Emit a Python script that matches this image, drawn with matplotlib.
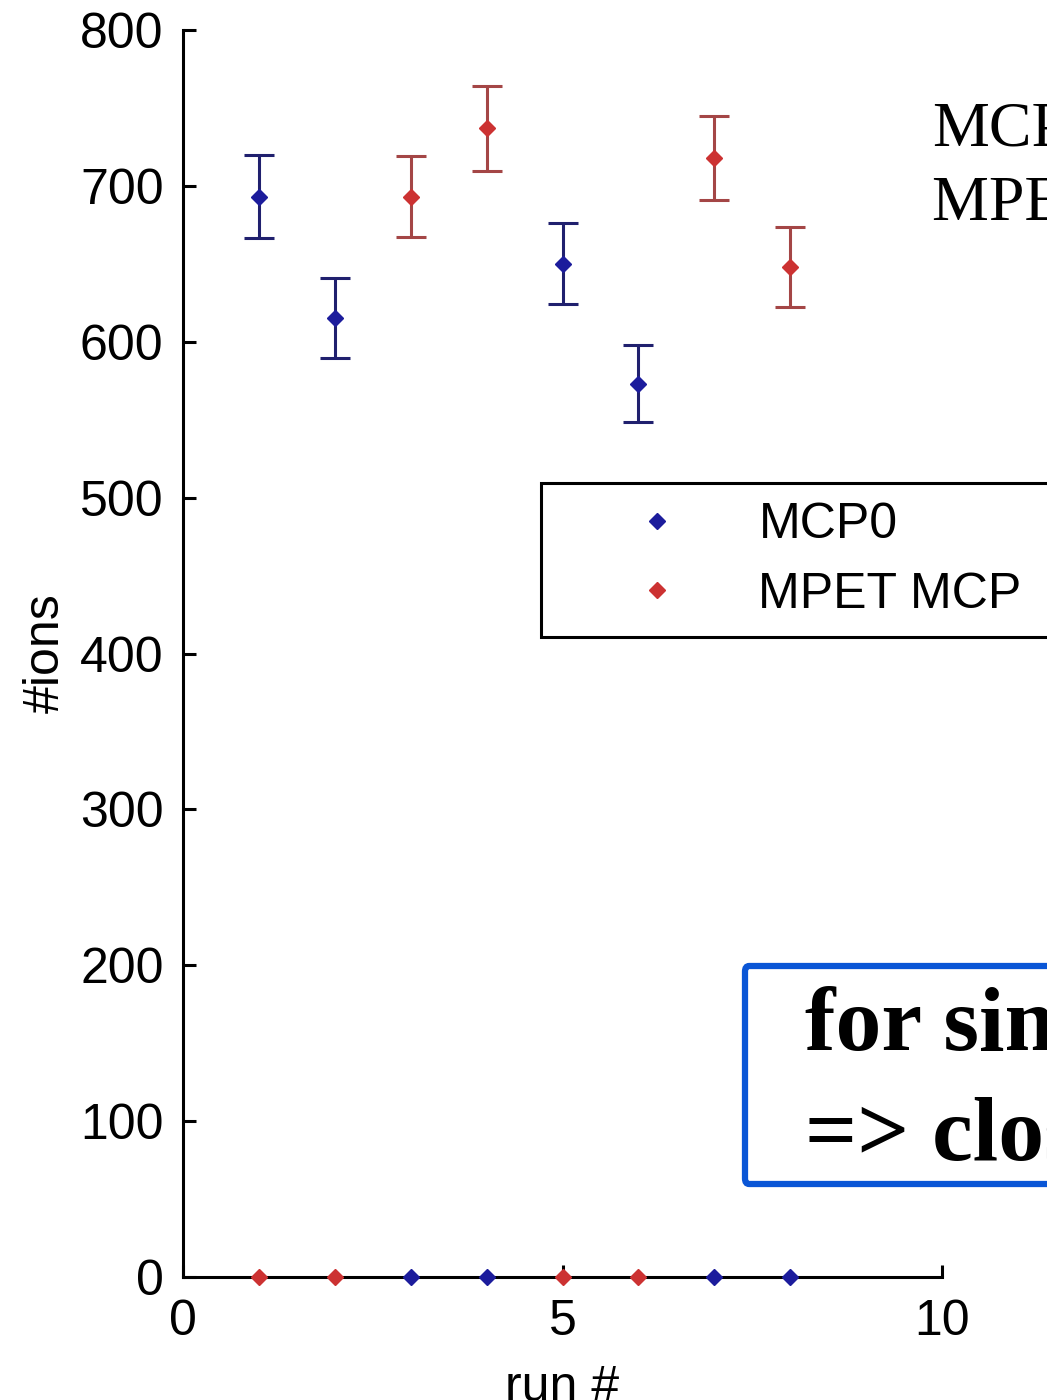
import numpy as np
import matplotlib.pyplot as plt
from matplotlib.patches import FancyBboxPatch

# run numbers and ion counts for the two detectors
runs = np.array([1, 2, 3, 4, 5, 6, 7, 8])
mcp0_ions = np.array([693, 615, 0, 0, 650, 573, 0, 0])
mcp0_err = np.array([26.5, 25.7, 0, 0, 26.0, 24.7, 0, 0])
mpet_ions = np.array([0, 0, 693, 737, 0, 0, 718, 648])
mpet_err = np.array([0, 0, 26.0, 27.3, 0, 0, 27.0, 25.7])

xticks = [0, 5, 10]
yticks = [0, 100, 200, 300, 400, 500, 600, 700, 800]

sans = ['Liberation Sans', 'DejaVu Sans']
serif = ['Liberation Serif', 'DejaVu Serif']

fig = plt.figure(figsize=(10.47, 14), dpi=100)
ax = fig.add_axes([183 / 1047, 1 - 1277 / 1400, (942 - 183) / 1047, (1277 - 30) / 1400])

blue = '#1c1c9c'
blue_err = '#20206e'
red = '#cc3232'
red_err = '#a44646'

# only runs with counts get error bars
m0 = mcp0_ions > 0
m1 = mpet_ions > 0
ax.errorbar(runs[m0], mcp0_ions[m0], yerr=mcp0_err[m0], fmt='none',
            ecolor=blue_err, elinewidth=2.2, capsize=11, capthick=2.2, zorder=2)
ax.errorbar(runs[m1], mpet_ions[m1], yerr=mpet_err[m1], fmt='none',
            ecolor=red_err, elinewidth=2.2, capsize=11, capthick=2.2, zorder=2)
ax.plot(runs, mcp0_ions, 'D', color=blue, ms=8, ls='none', label='MCP0',
        zorder=4, clip_on=False)
ax.plot(runs, mpet_ions, 'D', color=red, ms=8, ls='none', label='MPET MCP',
        zorder=4, clip_on=False)

ax.set_xlim(0, 10)
ax.set_ylim(0, 800)
ax.set_xticks(xticks)
ax.set_yticks(yticks)
ax.spines['top'].set_visible(False)
ax.spines['right'].set_visible(False)
for s in ('left', 'bottom'):
    ax.spines[s].set_linewidth(2.2)
    ax.spines[s].set_zorder(3)
ax.tick_params(direction='in', length=9, width=2.2, labelsize=36)
ax.tick_params(axis='y', pad=14)
ax.tick_params(axis='x', pad=16)
for lab in ax.get_xticklabels() + ax.get_yticklabels():
    lab.set_family(sans)

ax.set_xlabel('run #', family=sans, fontsize=36, labelpad=14)
ax.set_ylabel('#ions', family=sans, fontsize=36, labelpad=8)

leg = ax.legend(loc='upper left', bbox_to_anchor=(541 / 1047, 1 - 483 / 1400, 0.6, 0),
                bbox_transform=fig.transFigure, mode='expand', prop={'family': sans, 'size': 36},
                fancybox=False, edgecolor='black', framealpha=1, borderpad=0.38,
                labelspacing=0.47, handlelength=3.86, handletextpad=0.11,
                borderaxespad=0, numpoints=1, markerscale=1.0)
leg.get_frame().set_linewidth(2.2)
leg.set_clip_on(False)

# slide text to the right of the chart
fig.text(932 / 1047, 1 - 130 / 1400, 'MCP0:', family=serif, fontsize=46,
         va='center', ha='left')
fig.text(932 / 1047, 1 - 205 / 1400, 'MPET MCP:', family=serif, fontsize=46,
         va='center', ha='left')

box = FancyBboxPatch((745 / 1047, 1 - 1184 / 1400), 0.5, (1184 - 966) / 1400,
                     boxstyle='round,pad=0,rounding_size=0.004', transform=fig.transFigure,
                     facecolor='white', edgecolor='#0a56d6', linewidth=4.5)
fig.patches.append(box)
fig.text(805 / 1047, 1 - 1050 / 1400, 'for similar', family=serif,
         fontweight='bold', fontsize=66, va='baseline', ha='left')
fig.text(805 / 1047, 1 - 1160 / 1400, '=> close', family=serif,
         fontweight='bold', fontsize=66, va='baseline', ha='left')

fig.savefig('out.png', dpi=100)
